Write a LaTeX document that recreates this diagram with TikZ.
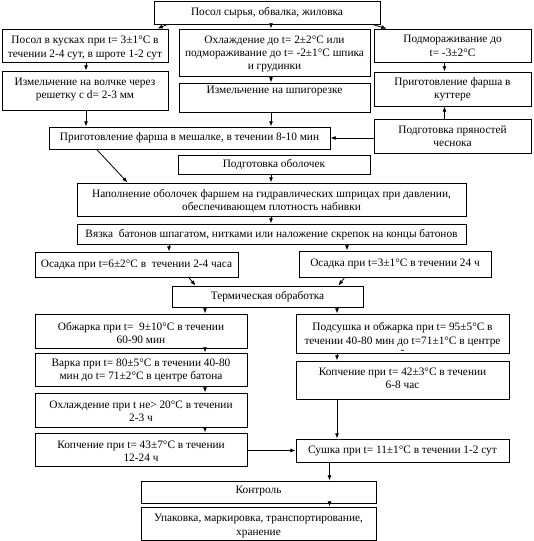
\documentclass[tikz,border=0pt]{standalone}
\usepackage{fontspec}
\setmainfont{Liberation Serif}
\usetikzlibrary{arrows.meta,calc}
\newcommand\mybox[7]{%
  \node[box, minimum width={(#4-#2)*0.75pt}, minimum height={(#5-#3)*0.75pt}] (#1) at ({(#2+#4)/2},{(#3+#5)/2}) {};
  \node[txt] (#1-t) at ({(#2+#4)/2},#6) {#7};}
\begin{document}
\begin{tikzpicture}[x=0.75pt,y=-0.75pt,
  box/.style={draw, line width=0.6pt, inner sep=0pt, rectangle},
  txt/.style={inner sep=0pt, align=center, font=\fontsize{8.5}{10}\selectfont},
  arr/.style={line width=0.6pt, -{Latex[length=4pt,width=3pt]}}]
\fill[white] (0,0) rectangle (533,541);
\useasboundingbox (0,0) rectangle (533,541);

\mybox{top}{154}{1}{380}{24}{12.5}{Посол сырья, обвалка, жиловка}
\mybox{a1}{2}{29}{168}{62}{48}{Посол в кусках при t= 3±1°C в\\течении 2-4 сут, в шроте 1-2 сут}
\mybox{b1}{179}{29}{370}{76}{54}{Охлаждение до t= 2±2°C или\\подмораживание до t= -2±1°C шпика\\и грудинки}
\mybox{c1}{374}{29}{531}{62}{46}{Подмораживание до\\t= -3±2°C}
\mybox{a2}{2}{71}{168}{110}{89.5}{Измельчение на волчке через\\решетку с d= 2-3 мм}
\mybox{b2}{179}{83}{370}{112}{91}{Измельчение на шпигорезке}
\mybox{c2}{374}{72}{531}{106}{89.5}{Приготовление фарша в\\куттере}
\mybox{mix}{49}{127}{330}{149}{137.5}{Приготовление фарша в мешалке, в течении 8-10 мин}
\mybox{c3}{374}{119}{531}{153}{136.5}{Подготовка пряностей\\чеснока}
\mybox{obol}{178}{155}{370}{174}{164.5}{Подготовка оболочек}
\mybox{fill}{77}{183}{466}{216}{201}{Наполнение оболочек фаршем на гидравлических шприцах при давлении,\\обеспечивающем плотность набивки}
\mybox{tie}{77}{224}{466}{244}{235}{Вязка\ \ батонов шпагатом, нитками или наложение скрепок на концы батонов}
\mybox{osl}{35}{252}{238}{277}{264.5}{Осадка при t=6±2°C в\ \ течении 2-4 часа}
\mybox{osr}{299}{251}{491}{277}{264}{Осадка при t=3±1°C в течении 24 ч}
\mybox{term}{172}{286}{363}{307}{297}{Термическая обработка}
\mybox{obz}{35}{314}{247}{348}{333}{Обжарка при t=\ \ 9±10°C в течении\\60-90 мин}
\mybox{pod}{296}{314}{509}{353}{338}{Подсушка и обжарка при t= 95±5°C в\\течении 40-80 мин до t=71±1°C в центре\\[-3pt]-}
\mybox{var}{35}{353}{247}{386}{370.5}{Варка при t= 80±5°C в течении 40-80\\мин до t= 71±2°C в центре батона}
\mybox{kr}{296}{361}{509}{399}{378.5}{Копчение при t= 42±3°C в течении\\6-8 час}
\mybox{okh}{35}{393}{247}{427}{411}{Охлаждение при t не> 20°C в течении\\2-3 ч}
\mybox{kl}{35}{433}{247}{466}{451}{Копчение при t= 43±7°C в течении\\12-24 ч}
\mybox{su}{296}{439}{509}{462}{450.5}{Сушка при t= 11±1°C в течении 1-2 сут}
\mybox{kon}{141}{481}{376}{503}{491}{Контроль}
\mybox{up}{141}{507}{376}{540}{526}{Упаковка, маркировка, транспортирование,\\хранение}

\coordinate (xa) at (86,0);
\coordinate (xb) at (271,0);
\coordinate (xc) at (444.5,0);
\coordinate (xtl) at (169,0);
\coordinate (xtr) at (347,0);
\coordinate (xl) at (205,0);
\coordinate (xr) at (337,0);
\coordinate (xk) at (329.5,0);

\draw[arr] ($(top.south west)+(14,0)$) -- ($(a1.north east)+(-11,0)$);
\draw[arr] (top.south -| xb) -- (b1.north -| xb);
\draw[arr] ($(top.south east)+(-8,0)$) -- ($(c1.north west)+(13,0)$);
\draw[arr] (a1.south -| xa) -- (a2.north -| xa);
\draw[arr] (b1.south -| xb) -- (b2.north -| xb);
\draw[arr] (c1.south -| xc) -- (c2.north -| xc);
\draw[arr] (c3.north -| xc) -- (c2.south -| xc);
\draw[arr] (c3.west |- mix.east) -- (mix.east);
\draw[arr] (a2.south -| xa) -- (mix.north -| xa);
\draw[arr] (b2.south -| xb) -- (mix.north -| xb);
\draw[arr] ($(mix.south west)+(48,0)$) -- ($(fill.north west)+(51,0)$);
\draw[arr] (obol.south -| xb) -- (fill.north -| xb);
\draw[arr] (fill.south -| xb) -- (tie.north -| xb);
\draw[arr] (tie.south -| xtl) -- (osl.north -| xtl);
\draw[arr] (tie.south -| xtr) -- (osr.north -| xtr);
\draw[arr] ($(osl.south west)+(154,0)$) -- ($(term.north west)+(24,0)$);
\draw[arr] ($(osr.south west)+(46,0)$) -- ($(term.north east)+(-25,0)$);
\draw[arr] (term.south -| xl) -- (obz.north -| xl);
\draw[arr] (term.south -| xr) -- (pod.north -| xr);
\draw[arr] (obz.south -| xl) -- (var.north -| xl);
\draw[arr] (var.south -| xl) -- (okh.north -| xl);
\draw[arr] (okh.south -| xl) -- (kl.north -| xl);
\draw[arr] (pod.south -| xr) -- (kr.north -| xr);
\draw[arr] (kr.south -| xr) -- (su.north -| xr);
\draw[arr] (kl.east |- su.west) -- (su.west);
\draw[arr] (su.south -| xk) -- (kon.north -| xk);
\draw[arr] (kon.south -| xk) -- (up.north -| xk);
\end{tikzpicture}
\end{document}
